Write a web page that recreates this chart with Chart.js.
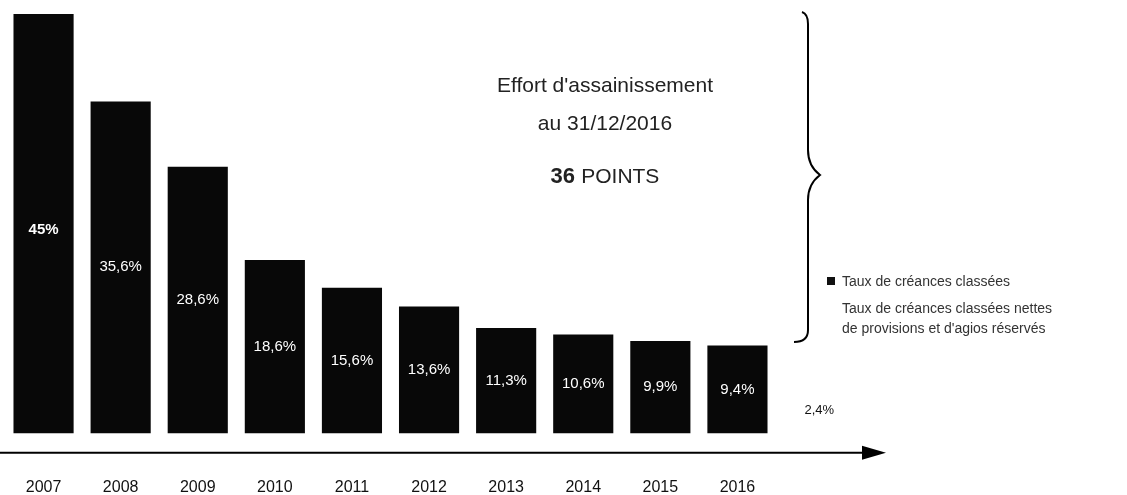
<!DOCTYPE html>
<html lang="fr">
<head>
  <meta charset="UTF-8">
  <title>Taux de créances classées</title>
  <script src="https://cdn.jsdelivr.net/npm/chart.js"></script>
  <style>
    body { margin: 0; background: #fff; }
  </style>
</head>
<body>

<canvas id="npl" width="1127" height="495"></canvas>

<script>
  const years = ['2007', '2008', '2009', '2010', '2011', '2012', '2013', '2014', '2015', '2016'];
  const grossRate = [45, 35.6, 28.6, 18.6, 15.6, 13.6, 11.3, 10.6, 9.9, 9.4];
  const valueLabels = ['45%', '35,6%', '28,6%', '18,6%', '15,6%', '13,6%', '11,3%', '10,6%', '9,9%', '9,4%'];
  const netRate2016 = 2.4;
  const netLabel2016 = '2,4%';

  const FONT = '"Liberation Sans", Arial, Helvetica, sans-serif';

  // axis arrow, bar labels, brace and side texts
  const decor = {
    id: 'decor',
    afterDatasetsDraw(chart) {
      const ctx = chart.ctx;
      const area = chart.chartArea;
      const y = chart.scales.y;
      const bars = chart.getDatasetMeta(0).data;

      ctx.save();

      // values in the bars
      ctx.fillStyle = '#fff';
      ctx.textAlign = 'center';
      ctx.textBaseline = 'middle';
      bars.forEach((bar, i) => {
        ctx.font = (i === 0 ? 'bold ' : '') + '15px ' + FONT;
        ctx.fillText(valueLabels[i], bar.x, (bar.y + bar.base) / 2 + (i === 0 ? 6 : 0));
      });

      // net rate 2016
      const last = bars[bars.length - 1];
      ctx.fillStyle = '#111';
      ctx.textAlign = 'left';
      ctx.font = '13px ' + FONT;
      ctx.fillText(netLabel2016, last.x + last.width / 2 + 37, y.getPixelForValue(netRate2016));

      // x axis with arrow
      const ay = area.bottom + 1;
      ctx.strokeStyle = '#000';
      ctx.lineWidth = 2;
      ctx.beginPath();
      ctx.moveTo(0, ay);
      ctx.lineTo(866, ay);
      ctx.stroke();
      ctx.fillStyle = '#000';
      ctx.beginPath();
      ctx.moveTo(862, ay - 7);
      ctx.lineTo(886, ay);
      ctx.lineTo(862, ay + 7);
      ctx.closePath();
      ctx.fill();

      // brace
      ctx.lineWidth = 2;
      ctx.beginPath();
      ctx.moveTo(802, 12);
      ctx.quadraticCurveTo(808, 14, 808, 24);
      ctx.lineTo(808, 150);
      ctx.quadraticCurveTo(808, 166, 820, 175);
      ctx.quadraticCurveTo(808, 184, 808, 200);
      ctx.lineTo(808, 330);
      ctx.quadraticCurveTo(808, 342, 794, 342);
      ctx.stroke();

      // centre text
      ctx.fillStyle = '#222';
      ctx.textAlign = 'center';
      ctx.font = '21px ' + FONT;
      ctx.fillText("Effort d'assainissement", 605, 86);
      ctx.fillText('au 31/12/2016', 605, 124);
      const big = '36';
      ctx.font = 'bold 22px ' + FONT;
      const w1 = ctx.measureText(big + ' ').width;
      ctx.font = '21px ' + FONT;
      const w2 = ctx.measureText('POINTS').width;
      const x0 = 605 - (w1 + w2) / 2;
      ctx.textAlign = 'left';
      ctx.font = 'bold 22px ' + FONT;
      ctx.fillText(big, x0, 177);
      ctx.font = '21px ' + FONT;
      ctx.fillText('POINTS', x0 + w1, 177);

      // legend
      ctx.fillStyle = '#111';
      ctx.fillRect(827, 277, 8, 8);
      ctx.fillStyle = '#333';
      ctx.font = '14px ' + FONT;
      ctx.fillText('Taux de créances classées', 842, 282);
      ctx.fillText('Taux de créances classées nettes', 842, 309);
      ctx.fillText("de provisions et d'agios réservés", 842, 329);

      ctx.restore();
    }
  };

  new Chart(document.getElementById('npl'), {
    type: 'bar',
    data: {
      labels: years,
      datasets: [{
        label: 'Taux de créances classées',
        data: grossRate,
        backgroundColor: '#080808',
        barPercentage: 0.78,
        categoryPercentage: 1
      }]
    },
    options: {
      responsive: false,
      animation: false,
      layout: { padding: { left: 5, right: 351, top: 0, bottom: -20 } },
      plugins: {
        legend: { display: false },
        tooltip: { enabled: false }
      },
      scales: {
        x: {
          grid: { display: false },
          border: { display: false },
          ticks: {
            color: '#111',
            padding: 18,
            font: { family: FONT, size: 16 }
          }
        },
        y: {
          display: false,
          min: -2,
          max: 46.5
        }
      }
    },
    plugins: [decor]
  });
</script>

</body>
</html>
